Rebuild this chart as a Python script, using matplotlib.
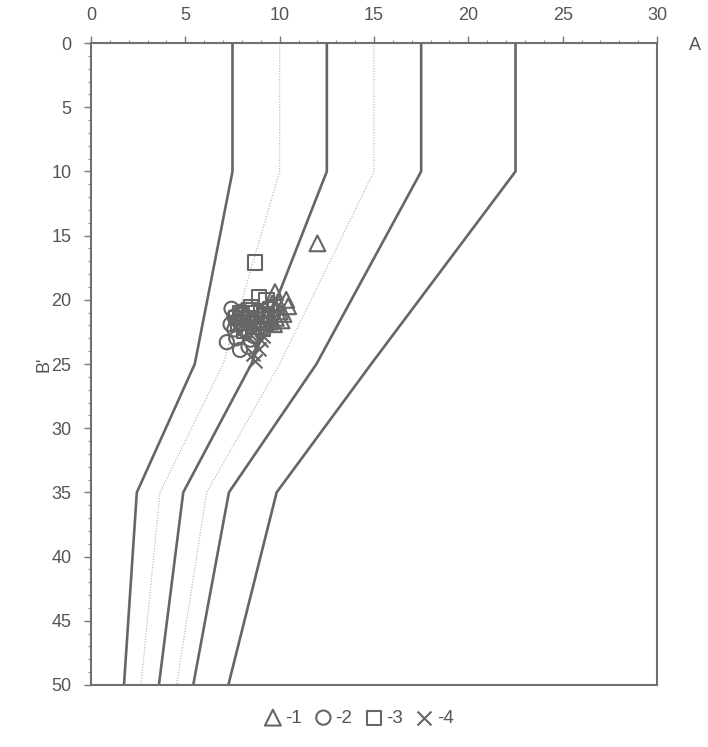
import matplotlib
matplotlib.use("Agg")
import matplotlib.pyplot as plt
from matplotlib.ticker import MultipleLocator

plt.rcParams['font.family'] = ['Liberation Sans', 'DejaVu Sans']

# boundary lines (thick) and intermediate lines (dotted): x values at depths
depth_pts = [0, 10, 25, 35, 50]
line1 = [7.5, 7.5, 5.5, 2.43, 1.75]
line2 = [12.5, 12.5, 8.5, 4.89, 3.6]
line3 = [17.5, 17.5, 11.95, 7.31, 5.42]
line4 = [22.5, 22.5, 14.85, 9.84, 7.28]
dot1 = [10.0, 10.0, 7.0, 3.66, 2.65]
dot2 = [15.0, 15.0, 10.0, 6.13, 4.54]

# scatter series
s1_x = [12.0, 9.75, 10.35, 9.6, 10.0, 10.45, 10.1, 9.7, 9.4, 9.9, 10.2, 9.5, 9.8]
s1_y = [15.6, 19.4, 20.0, 20.3, 20.9, 20.5, 21.6, 21.9, 21.2, 20.2, 21.1, 21.7, 21.4]
s2_x = [7.45, 7.6, 7.2, 7.7, 7.9, 8.35, 8.45, 7.9, 8.2, 7.4, 8.0, 7.6, 8.6, 8.1]
s2_y = [20.7, 21.3, 23.3, 23.0, 23.9, 23.65, 23.1, 21.8, 22.4, 21.9, 20.9, 22.3, 22.8, 21.5]
s3_x = [8.7, 8.9, 9.3, 8.5, 9.0, 7.9, 8.3, 8.8, 9.3, 7.8, 8.6, 9.1, 8.1, 8.4, 9.5, 8.0, 8.7, 9.2, 7.7]
s3_y = [17.1, 19.8, 20.0, 20.6, 20.9, 21.0, 21.4, 21.6, 21.3, 21.8, 22.1, 22.3, 22.4, 20.8, 20.7, 21.2, 21.0, 21.8, 21.4]
s4_x = [8.7, 8.6, 8.9, 9.0, 8.4, 8.8, 9.3, 8.2, 9.1, 8.5, 7.9, 8.3, 9.2, 8.6]
s4_y = [24.8, 24.2, 23.8, 23.1, 22.6, 22.2, 21.9, 21.5, 22.8, 21.2, 21.7, 22.0, 21.3, 21.8]

xticks = [0, 5, 10, 15, 20, 25, 30]
yticks = [0, 5, 10, 15, 20, 25, 30, 35, 40, 45, 50]

fig = plt.figure(figsize=(7.08, 7.47), dpi=100)
ax = fig.add_axes([0.1285, 0.083, 0.7995, 0.8594])

gray = '#666666'
for xs in (line1, line2, line3, line4):
    ax.plot(xs, depth_pts, color=gray, lw=1.9, zorder=2)
for xs in (dot1, dot2):
    ax.plot(xs, depth_pts, color='#b0b0b0', lw=0.8, ls=(0, (1, 1.5)), zorder=1)

mk = dict(facecolors='none', edgecolors=gray, linewidths=1.5, zorder=3)
h1 = ax.scatter(s1_x, s1_y, marker='^', s=130, **mk)
h2 = ax.scatter(s2_x, s2_y, marker='o', s=105, **mk)
h3 = ax.scatter(s3_x, s3_y, marker='s', s=105, **mk)
h4 = ax.scatter(s4_x, s4_y, marker='x', s=100, color=gray, linewidths=1.5, zorder=3)

ax.set_xlim(0, 30)
ax.set_ylim(50, 0)
ax.xaxis.tick_top()
ax.set_xticks(xticks)
ax.set_yticks(yticks)
ax.xaxis.set_minor_locator(MultipleLocator(1))
ax.yaxis.set_minor_locator(MultipleLocator(1))
ax.tick_params(which='major', direction='out', length=5, width=1, color='#777777',
               labelsize=13, labelcolor='#555555', pad=9)
ax.tick_params(which='minor', direction='out', length=2.5, width=0.8, color='#888888')
for sp in ax.spines.values():
    sp.set_color('#707070')
    sp.set_linewidth(1.5)

ax.set_ylabel("B'", fontsize=13, color='#555555')
ax.yaxis.set_label_coords(-0.068, 0.5)
fig.text(695 / 708, 1 - 45 / 747, 'A', fontsize=13, color='#555555', ha='center', va='center')

fig.legend([h1, h2, h3, h4], ['-1', '-2', '-3', '-4'], loc='center',
           bbox_to_anchor=(358 / 708, 1 - 718 / 747), ncol=4, frameon=False,
           handletextpad=0.1, columnspacing=0.6, fontsize=13.5, labelcolor='#555555',
           markerscale=1.0, handlelength=1.1)

fig.savefig('out.png', dpi=100)
